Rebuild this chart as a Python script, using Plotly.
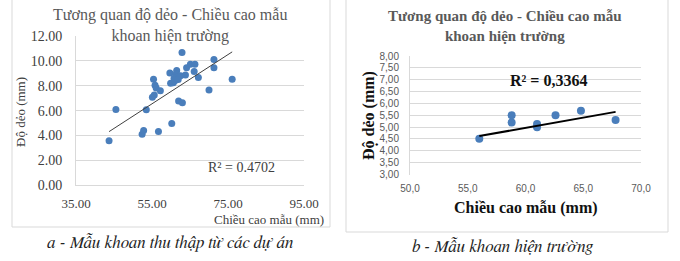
import plotly.graph_objects as go
import numpy as np

W, H = 680, 261

# ---------------- data ----------------
# Chart a: samples collected from projects
height_a = [43.7, 45.5, 52.4, 52.8, 56.7, 60.2, 53.5, 55.1, 55.6, 55.4, 55.8, 56.1,
            57.2, 59.7, 59.9, 60.6, 61.0, 61.5, 61.4, 61.9, 62.9, 62.0, 63.0, 62.5,
            63.8, 64.1, 65.1, 66.3, 66.1, 67.2, 70.0, 71.3, 71.3, 76.1, 60.8, 61.9]
plast_a = [3.58, 6.10, 4.10, 4.40, 4.32, 4.97, 6.08, 7.07, 7.25, 8.52, 8.05, 7.82,
           7.60, 9.02, 8.20, 8.25, 8.40, 9.22, 8.97, 8.72, 10.68, 6.78, 6.64, 8.80,
           8.86, 9.45, 9.72, 9.72, 9.15, 8.66, 7.65, 10.12, 9.45, 8.52, 8.60, 8.50]
trend_a = [0.1978, -4.33]          # slope, intercept
r2_a = "R² = 0.4702"

xticks_a = [35, 55, 75, 95]
xticktext_a = ["35.00", "55.00", "75.00", "95.00"]
yticks_a = [0, 2, 4, 6, 8, 10, 12]
yticktext_a = ["0.00", "2.00", "4.00", "6.00", "8.00", "10.00", "12.00"]

# Chart b: field drilling samples
height_b = [56.0, 58.8, 58.8, 61.0, 61.0, 62.6, 64.8, 67.8]
plast_b = [4.51, 5.50, 5.19, 5.13, 4.99, 5.50, 5.69, 5.30]
trend_b = [0.0866, -0.229]
r2_b = "R² = 0,3364"

xticks_b = [50, 55, 60, 65, 70]
xticktext_b = ["50,0", "55,0", "60,0", "65,0", "70,0"]
yticks_b = [3.0, 3.5, 4.0, 4.5, 5.0, 5.5, 6.0, 6.5, 7.0, 7.5, 8.0]
yticktext_b = ["3,00", "3,50", "4,00", "4,50", "5,00", "5,50", "6,00", "6,50", "7,00", "7,50", "8,00"]

title_txt = "Tương quan độ dẻo - Chiều cao mẫu<br>khoan hiện trường"
ytitle = "Độ dẻo (mm)"
xtitle = "Chiều cao mẫu (mm)"
caption_a = "a - Mẫu khoan thu thập từ các dự án"
caption_b = "b - Mẫu khoan hiện trường"

# ---------------- helpers ----------------
def px(x):
    return x / W

def py(y):
    return 1 - y / H

SERIF = "Liberation Serif, Times New Roman, serif"
ITALIC_SERIF = "FreeSerif"
SANS = "Liberation Sans"
GRID = "#d9d9d9"
DOT = "#4a7ebb"

fig = go.Figure()

# chart a
fig.add_trace(go.Scatter(x=height_a, y=plast_a, mode="markers",
                         marker=dict(color=DOT, size=7), xaxis="x", yaxis="y",
                         showlegend=False, hoverinfo="skip"))
xa = np.array([min(height_a), max(height_a)])
fig.add_trace(go.Scatter(x=xa, y=trend_a[0] * xa + trend_a[1], mode="lines",
                         line=dict(color="#404040", width=1), xaxis="x", yaxis="y",
                         showlegend=False, hoverinfo="skip"))

# chart b
fig.add_trace(go.Scatter(x=height_b, y=plast_b, mode="markers",
                         marker=dict(color=DOT, size=8), xaxis="x2", yaxis="y2",
                         showlegend=False, hoverinfo="skip"))
xb = np.array([min(height_b), max(height_b)])
fig.add_trace(go.Scatter(x=xb, y=trend_b[0] * xb + trend_b[1], mode="lines",
                         line=dict(color="#000000", width=2), xaxis="x2", yaxis="y2",
                         showlegend=False, hoverinfo="skip"))

fig.update_layout(
    width=W, height=H, margin=dict(l=0, r=0, t=0, b=0, pad=0),
    paper_bgcolor="white", plot_bgcolor="white",
    xaxis=dict(domain=[px(76), px(304)], range=[35, 95], tickvals=xticks_a, ticktext=xticktext_a,
               showgrid=False, zeroline=False, showline=True, linecolor=GRID, linewidth=1,
               ticks="", tickfont=dict(family=SERIF, size=13, color="#404040"),
               ticklabelstandoff=6, anchor="y", automargin=False),
    yaxis=dict(domain=[py(185.3), py(36)], range=[0, 12], tickvals=yticks_a, ticktext=yticktext_a,
               showgrid=True, gridcolor=GRID, gridwidth=1, zeroline=False,
               showline=True, linecolor=GRID, linewidth=1,
               ticks="", tickfont=dict(family=SERIF, size=14, color="#404040"),
               ticklabelstandoff=10, anchor="x", automargin=False),
    xaxis2=dict(domain=[px(410), px(641)], range=[50, 70], tickvals=xticks_b, ticktext=xticktext_b,
                showgrid=False, zeroline=False, showline=False,
                ticks="", tickfont=dict(family=SANS, size=10, color="#595959"),
                ticklabelstandoff=6, anchor="y2", automargin=False),
    yaxis2=dict(domain=[py(174.5), py(56)], range=[3, 8], tickvals=yticks_b, ticktext=yticktext_b,
                showgrid=True, gridcolor=GRID, gridwidth=1, zeroline=False,
                showline=True, linecolor=GRID, linewidth=1,
                ticks="", tickfont=dict(family=SANS, size=10, color="#595959"),
                ticklabelstandoff=8, anchor="x2", automargin=False),
)

shapes = [
    dict(type="rect", xref="paper", yref="paper", x0=px(12), x1=px(330), y0=py(227), y1=py(-5),
         line=dict(color=GRID, width=1), fillcolor="rgba(0,0,0,0)", layer="below"),
    dict(type="rect", xref="paper", yref="paper", x0=px(346), x1=px(668), y0=py(232), y1=py(-5),
         line=dict(color=GRID, width=1), fillcolor="rgba(0,0,0,0)", layer="below"),
]
fig.update_layout(shapes=shapes)

def ann(text, x, y, size, family=SERIF, color="#404040", xanchor="center", angle=0,
        bold=False, italic=False):
    fig.add_annotation(text=text, x=px(x), y=py(y), xref="paper", yref="paper", showarrow=False,
                       xanchor=xanchor, yanchor="middle", textangle=angle,
                       font=dict(family=family, size=size, color=color,
                                 weight="bold" if bold else "normal",
                                 style="italic" if italic else "normal"))

# chart a texts
ann(title_txt, 170, 26, 16, color="#595959")
ann(ytitle, 20, 112, 13, angle=-90)
ann(xtitle, 326, 219, 13, xanchor="right")
ann(r2_a, 241, 167, 14)
ann(caption_a, 170, 242, 17, family=ITALIC_SERIF, color="#222222", italic=True)

# chart b texts
ann(title_txt, 505, 26, 15, color="#595959", bold=True)
ann(ytitle, 369, 116, 16, color="#111111", angle=-90, bold=True)
ann(xtitle, 526, 208, 16, color="#111111", bold=True)
ann(r2_b, 548, 81, 16, color="#111111", bold=True)
ann(caption_b, 503, 246, 17, family=ITALIC_SERIF, color="#222222", italic=True)

fig.write_html("out.html")
